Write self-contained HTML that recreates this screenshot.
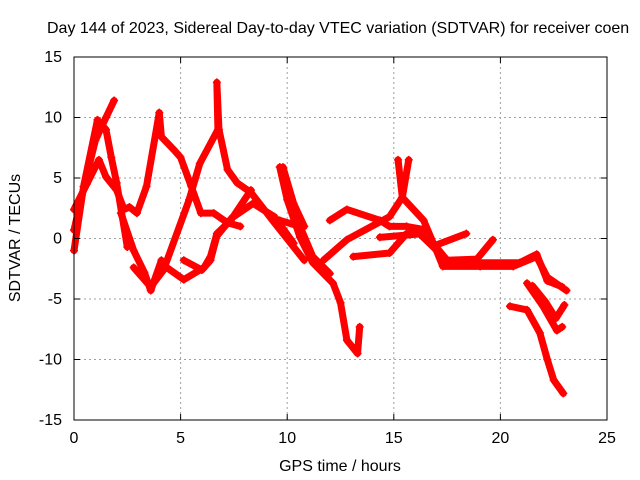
<!DOCTYPE html>
<html><head><meta charset="utf-8"><style>
body{margin:0;background:#fff}
svg{display:block;font-family:"Liberation Sans",Arial,sans-serif}
</style></head><body>
<svg id="chart" width="640" height="480">
<rect width="640" height="480" fill="#fff"/>
<g id="grid"></g>
<g id="series"></g>
<rect x="74" y="57" width="533" height="363" fill="none" stroke="#000" stroke-width="1"/>
<g id="ticks"></g>
<text x="47" y="33" font-size="16">Day 144 of 2023, Sidereal Day-to-day VTEC variation (SDTVAR) for receiver coen</text>
<text x="340" y="471" font-size="16" text-anchor="middle">GPS time / hours</text>
<text x="20" y="238" font-size="16" text-anchor="middle" transform="rotate(-90 20 238)">SDTVAR / TECUs</text>
</svg>
<script>
const xTicks=[0,5,10,15,20,25];
const yTicks=[15,10,5,0,-5,-10,-15];
const trackA=[[0,0.7],[0.5,4.5],[1.0,8.1],[1.5,10],[1.88,11.4]];
const trackB=[[0,2.4],[0.6,4.5],[1.17,6.5],[1.5,5.1],[2.0,4.0],[2.35,2.4],[2.6,2.6],[2.95,2.1],[3.4,4.3],[4.0,10.4],[4.1,8.4],[4.7,7.3],[5.0,6.7],[5.5,4.3],[5.95,2.1],[6.55,2.1],[7.2,1.3],[7.8,1.0]];
const trackC=[[0,-1],[0.45,4.3],[1.1,9.8],[1.5,9.0],[1.75,6.7],[2.0,4.6],[2.5,-0.7]];
const trackD=[[2.2,2.1],[2.8,-1],[3.3,-2.8],[3.6,-4.3],[4.1,-1.8],[4.35,-2.4],[5.15,-3.4],[6.1,-2.4],[6.4,-1.5],[6.7,0.4],[7.35,1.5],[8.3,4.0]];
const trackE=[[2.8,-2.4],[3.6,-4.0],[4.2,-2.6],[5.4,3.2],[5.9,6.2],[6.75,9.0],[6.7,12.9],[6.8,9.0],[7.2,5.7],[7.65,4.6],[8.3,3.8],[9.4,1.3],[10.8,-1.8]];
const trackF=[[5.15,-1.8],[6.0,-2.6],[6.4,-1.8],[6.7,0.2],[7.4,1.7],[8.4,2.9],[9.4,1.8],[10.3,-0.4]];
const trackF2=[[9.8,5.9],[10.3,2.9],[10.8,1.0]];
const trackG=[[9.65,5.9],[10.0,3.2],[10.6,0.1],[11.2,-2.0],[12.15,-3.7],[12.5,-5.3],[12.8,-8.4],[13.3,-9.5],[13.4,-7.3]];
const trackG2=[[9.65,1.5],[10.6,1.0],[11.2,-1.5],[12.0,-2.9]];
const trackH1=[[11.7,-1.8],[12.8,-0.1],[14.8,1.8],[15.4,3.4],[15.2,6.5]];
const trackH2=[[15.4,3.4],[15.7,6.5]];
const trackH3=[[15.4,3.4],[16.4,1.5],[17.0,-1.0],[17.3,-2.3],[19.05,-2.3],[20.6,-2.3],[21.7,-1.5],[22.2,-3.2],[23.1,-4.3]];
const trackI=[[12.0,1.5],[12.8,2.4],[14.35,1.5],[14.8,1.0],[15.6,1.0],[16.55,0.7],[16.9,-0.6],[18.4,0.4]];
const trackJ=[[13.1,-1.5],[14.8,-1.2],[15.6,0.4],[16.2,0.4],[17.5,-1.8],[18.9,-1.7],[19.65,-0.1]];
const trackK=[[14.35,0.1],[16.4,0.4],[16.8,-0.3],[17.5,-1.8],[18.9,-2.0],[20.9,-2.0],[21.7,-1.3],[22.2,-3.5],[22.9,-4.0]];
const trackL=[[20.45,-5.6],[21.25,-5.9],[21.85,-7.8],[22.2,-10.0],[22.5,-11.7],[22.95,-12.8]];
const trackM=[[21.25,-3.7],[22.0,-5.6],[22.65,-7.6],[22.9,-7.3]];
const trackN=[[21.5,-3.9],[22.1,-5.2],[22.6,-6.6],[23.0,-5.5]];
const tracks=[trackA,trackB,trackC,trackD,trackE,trackF,trackF2,trackG,trackG2,trackH1,trackH2,trackH3,trackI,trackJ,trackK,trackL,trackM,trackN];

const X0=74,X1=607,Y0=420,Y1=57;
const xs=t=>X0+(t-0)/(25-0)*(X1-X0);
const ys=v=>Y0-(v+15)/30*(Y0-Y1);
const NS='http://www.w3.org/2000/svg';
const mk=(tag,attrs,parent)=>{const e=document.createElementNS(NS,tag);for(const k in attrs)e.setAttribute(k,attrs[k]);parent.appendChild(e);return e;};
const grid=document.getElementById('grid'),ticks=document.getElementById('ticks'),ser=document.getElementById('series');
xTicks.forEach(t=>{
  const x=xs(t);
  if(t>0&&t<25){const g=mk('line',{x1:x,x2:x,y1:Y1,y2:Y0,stroke:'#a0a0a0','stroke-dasharray':'2,3'},grid);
  
  }
  mk('line',{x1:x,x2:x,y1:Y0,y2:Y0-6,stroke:'#000'},ticks);
  mk('line',{x1:x,x2:x,y1:Y1,y2:Y1+6,stroke:'#000'},ticks);
  const l=mk('text',{x:x,y:443,'font-size':16,'text-anchor':'middle'},ticks);
  l.textContent=t;
  
  
});
yTicks.forEach(v=>{
  const y=ys(v);
  if(v>-15&&v<15){const g=mk('line',{x1:X0,x2:X1,y1:y,y2:y,stroke:'#a0a0a0','stroke-dasharray':'2,3'},grid);
  
  }
  mk('line',{x1:X0,x2:X0+6,y1:y,y2:y,stroke:'#000'},ticks);
  mk('line',{x1:X1,x2:X1-6,y1:y,y2:y,stroke:'#000'},ticks);
  const l=mk('text',{x:62,y:y+5,'font-size':16,'text-anchor':'end'},ticks);
  l.textContent=v;
  
  
});
tracks.forEach((tr,i)=>{
  const p=mk('polyline',{points:tr.map(d=>xs(d[0])+','+ys(d[1])).join(' '),fill:'none',stroke:'#f00','stroke-width':7,'stroke-linejoin':'round','stroke-linecap':'round'},ser);
  
  
  tr.forEach(d=>{
    const x=xs(d[0]),y=ys(d[1]);
    const m=mk('path',{d:`M${x-4},${y}H${x+4}M${x},${y-4}V${y+4}`,stroke:'#f00','stroke-width':1.5},ser);
    
    
  });
});
</script>
</body></html>
